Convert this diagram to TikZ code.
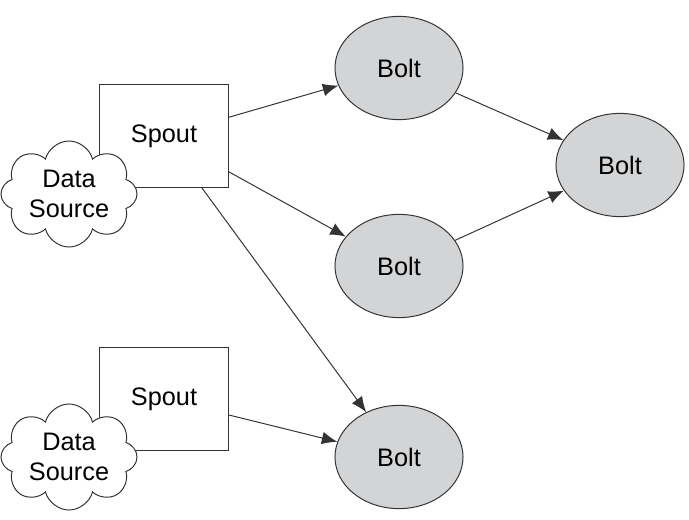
\documentclass[tikz,border=0pt]{standalone}
\usepackage{fontspec}
\setmainfont{Liberation Sans}
\usetikzlibrary{arrows.meta,shapes.geometric,shapes.symbols}
\definecolor{boltGray}{RGB}{211,212,214}
\definecolor{edgeGray}{RGB}{51,51,51}

\begin{document}
\begin{tikzpicture}[x=0.025cm,y=-0.025cm,>={Latex[length=11pt,width=9pt]},line width=0.7pt,
  spout/.style={draw=edgeGray,fill=white,minimum width=3.2cm,minimum height=2.55cm,font=\fontsize{18}{22}\selectfont},
  bolt/.style={draw=edgeGray,ellipse,fill=boltGray,minimum width=3.2cm,minimum height=2.58cm,inner sep=0pt,font=\fontsize{18}{22}\selectfont},
  source/.style={draw=edgeGray,cloud,cloud puffs=8,cloud ignores aspect,fill=white,minimum width=3.4cm,minimum height=2.65cm,inner sep=0pt,align=center,font=\fontsize{18}{21}\selectfont}]
\useasboundingbox (0,0) rectangle (689,519);
\node[spout] (spoutA) at (164,136) {Spout};
\node[source] (sourceA) at (69,194) {Data\\Source};
\node[spout] (spoutB) at (164,399) {Spout};
\node[source] (sourceB) at (69,457) {Data\\Source};
\node[bolt] (boltA) at (399,68) {Bolt};
\node[bolt] (boltB) at (399,266) {Bolt};
\node[bolt] (boltC) at (399,457) {Bolt};
\node[bolt] (boltD) at (620,165) {Bolt};
\draw[->,edgeGray] (spoutA) -- (boltA);
\draw[->,edgeGray] (spoutA) -- (boltB);
\draw[->,edgeGray] (spoutA) -- (boltC);
\draw[->,edgeGray] (spoutB) -- (boltC);
\draw[->,edgeGray] (boltA) -- (boltD);
\draw[->,edgeGray] (boltB) -- (boltD);
\end{tikzpicture}
\end{document}
